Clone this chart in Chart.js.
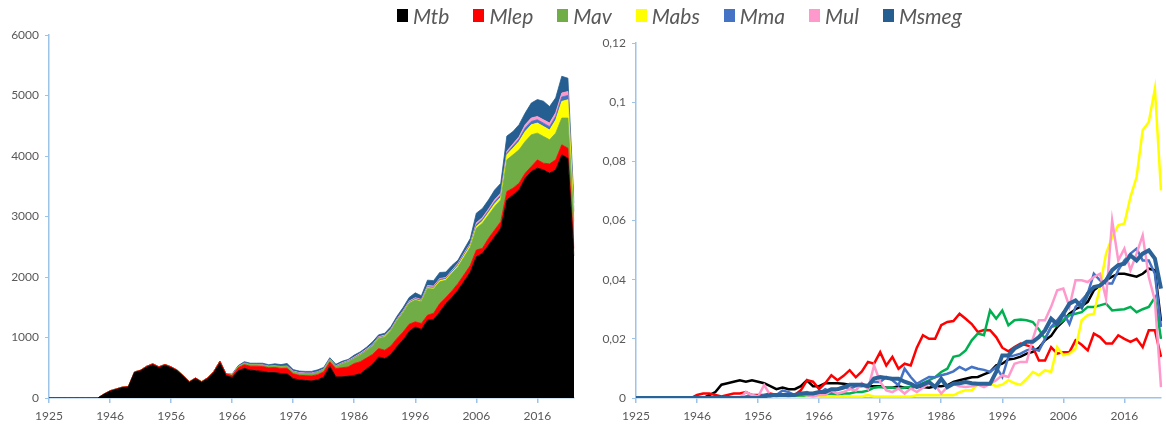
<!DOCTYPE html>
<html lang="en">
<head>
<meta charset="UTF-8">
<title>Mycobacteria</title>
<script src="https://cdn.jsdelivr.net/npm/chart.js"></script>
<style>
  body { margin: 0; background: #fff; width: 1166px; height: 426px; overflow: hidden; position: relative; }
  #legend { position: absolute; left: 397px; top: 3px; display: flex; align-items: center; font-family: Lato, sans-serif; font-style: italic; font-size: 21px; color: #595959; }
  #legend .item { display: flex; align-items: center; margin-right: 24px; }
  #legend .box { width: 11px; height: 13px; margin-right: 5px; }
  .wrap { position: absolute; top: 0; height: 426px; }
</style>
</head>
<body>
<div class="wrap" style="left:0;width:590px"><canvas id="left"></canvas></div>
<div class="wrap" style="left:590px;width:576px"><canvas id="right"></canvas></div>
<div id="legend"></div>

<script>
// years on the category axis (1925, then 1937..2022)
const years = ['1925','1937','1938','1939','1940','1941','1942','1943','1944','1945',
  '1946','1947','1948','1949','1950','1951','1952','1953','1954','1955',
  '1956','1957','1958','1959','1960','1961','1962','1963','1964','1965',
  '1966','1967','1968','1969','1970','1971','1972','1973','1974','1975',
  '1976','1977','1978','1979','1980','1981','1982','1983','1984','1985',
  '1986','1987','1988','1989','1990','1991','1992','1993','1994','1995',
  '1996','1997','1998','1999','2000','2001','2002','2003','2004','2005',
  '2006','2007','2008','2009','2010','2011','2012','2013','2014','2015',
  '2016','2017','2018','2019','2020','2021','2022'];

const names = ['Mtb','Mlep','Mav','Mabs','Mma','Mul','Msmeg'];

// left: counts (stacked area)
const lMtb = [0,0,0,0,0,0,0,0,0,60,
  110,140,170,180,420,450,510,550,500,540,
  500,450,360,260,320,260,320,420,580,370,
  340,450,490,460,450,440,420,420,404,400,
  320,300,290,282,300,348,525,348,350,359,
  376,400,480,560,679,652,720,850,960,1100,
  1176,1133,1287,1300,1420,1560,1660,1784,1930,2080,
  2335,2391,2529,2667,2805,3274,3357,3440,3633,3743,
  3799,3771,3716,3771,4019,3964,2350];
const lMlep = [0,0,0,0,0,0,0,0,0,5,
  10,10,10,10,10,10,15,15,15,15,
  15,10,10,10,10,10,15,20,30,30,
  30,50,60,65,75,80,80,85,83,90,
  80,75,80,83,85,83,71,139,150,154,
  194,200,180,160,139,138,140,135,130,120,
  83,99,82,100,140,100,110,110,110,110,
  111,83,111,110,110,138,111,110,83,83,
  137,110,154,165,166,166,120];
const lMav = [0,0,0,0,0,0,0,0,0,0,
  0,0,0,0,0,0,0,0,0,0,
  0,0,0,0,0,0,0,0,0,0,
  10,15,20,20,20,20,20,20,25,30,
  25,25,25,30,30,30,30,26,60,83,
  82,110,120,140,166,220,250,290,320,345,
  359,358,442,400,360,286,290,275,290,300,
  359,414,385,386,359,524,551,552,524,524,
  442,442,398,442,442,497,450];
const lMabs = [0,0,0,0,0,0,0,0,0,0,
  0,0,0,0,0,0,0,0,0,0,
  0,0,0,0,0,0,0,0,0,0,
  0,0,0,0,0,0,0,0,0,0,
  0,0,0,0,0,0,0,0,2,2,
  2,3,3,4,5,5,5,5,8,10,
  10,10,12,15,20,15,20,20,25,25,
  30,35,40,45,44,83,111,138,165,166,
  166,165,162,217,275,303,120];
const lMma = [0,0,0,0,0,0,0,0,0,0,
  0,0,0,0,0,0,0,0,0,0,
  0,0,0,0,0,0,0,0,0,0,
  3,3,5,5,5,5,5,5,5,5,
  10,10,10,10,10,10,10,10,10,10,
  10,10,10,10,10,10,10,12,12,12,
  15,15,15,15,20,15,15,20,20,20,
  30,30,30,35,35,30,35,40,56,56,
  55,55,55,60,73,70,40];
const lMul = [0,0,0,0,0,0,0,0,0,0,
  0,0,0,0,0,0,0,0,0,0,
  0,0,0,0,0,0,0,0,0,0,
  3,3,5,5,5,5,5,5,5,5,
  10,10,10,10,10,10,10,10,10,10,
  15,15,15,15,15,15,15,15,15,15,
  15,15,20,20,15,15,15,20,20,20,
  30,30,30,35,35,30,35,40,56,56,
  55,55,60,60,66,66,20];
const lMsmeg = [0,0,0,0,0,0,0,0,0,0,
  0,0,0,0,0,0,0,0,0,0,
  0,0,0,0,0,0,0,0,0,0,
  10,15,20,20,20,25,20,30,30,40,
  25,25,25,25,30,25,20,25,25,20,
  30,25,30,40,30,30,40,45,50,60,
  80,60,90,90,100,90,80,50,65,80,
  160,150,150,160,160,250,204,198,193,247,
  279,307,272,246,277,220,120];

// right: proportions (lines)
const rMtb = [0,0,0,0,0,0,0,0,0,0,
  0,0,0.001,0.002,0.0045,0.005,0.0055,0.006,0.0055,0.006,
  0.0055,0.005,0.004,0.003,0.0035,0.003,0.003,0.004,0.006,0.004,
  0.004,0.005,0.005,0.005,0.0048,0.0045,0.0045,0.0045,0.004,0.004,
  0.004,0.0035,0.0035,0.004,0.0035,0.0035,0.004,0.0037,0.0035,0.004,
  0.004,0.0043,0.0054,0.006,0.0065,0.007,0.0071,0.008,0.0088,0.011,
  0.0116,0.013,0.0133,0.014,0.015,0.0156,0.017,0.0195,0.021,0.024,
  0.026,0.0285,0.030,0.031,0.0325,0.0364,0.038,0.0398,0.041,0.042,
  0.042,0.0415,0.041,0.042,0.0437,0.0432,0.026];
const rMlep = [0,0,0,0,0,0,0,0,0,0,
  0.001,0.0015,0.0015,0.001,0.0005,0.001,0.0015,0.0015,0.002,0.001,
  0.001,0.001,0.0015,0.001,0.001,0.001,0.001,0.0026,0.006,0.0055,
  0.003,0.005,0.0077,0.006,0.0075,0.0094,0.007,0.009,0.0122,0.0116,
  0.0155,0.011,0.0139,0.0099,0.0116,0.011,0.017,0.0212,0.02,0.02,
  0.0246,0.0257,0.026,0.0285,0.0268,0.025,0.0223,0.023,0.0229,0.0206,
  0.017,0.0158,0.0172,0.0184,0.0178,0.0172,0.0127,0.0127,0.0172,0.015,
  0.0155,0.0155,0.0195,0.018,0.0161,0.0218,0.0206,0.0184,0.0184,0.0212,
  0.02,0.019,0.02,0.0172,0.0229,0.0229,0.0139];
const rMav = [0,0,0,0,0,0,0,0,0,0,
  0,0,0,0,0,0,0,0,0,0,
  0,0,0,0,0,0,0.0005,0.0005,0.001,0.0005,
  0.001,0.001,0.0015,0.001,0.0015,0.0015,0.002,0.002,0.0025,0.0035,
  0.0037,0.0035,0.0035,0.0032,0.0035,0.0037,0.004,0.005,0.006,0.007,
  0.0088,0.0099,0.0139,0.0144,0.0161,0.0195,0.0218,0.0212,0.0296,0.0268,
  0.0296,0.0246,0.0263,0.0265,0.0263,0.0257,0.0232,0.02,0.024,0.0246,
  0.0263,0.028,0.0285,0.029,0.0308,0.0308,0.0313,0.0319,0.0296,0.0298,
  0.03,0.0308,0.029,0.03,0.0308,0.034,0.02];
const rMabs = [0,0,0,0,0,0,0,0,0,0,
  0,0,0,0,0,0,0,0,0,0,
  0,0,0,0,0,0,0,0,0,0,
  0.0005,0.0005,0.0005,0.0005,0.0005,0.0005,0.0005,0.0005,0.001,0.0005,
  0.0005,0.0005,0.0005,0.0005,0.0005,0.0005,0.0009,0.0009,0.0009,0.0009,
  0.0009,0.0009,0.0009,0.002,0.0026,0.0026,0.0048,0.005,0.0048,0.004,
  0.0045,0.006,0.005,0.0045,0.0065,0.0088,0.0077,0.0094,0.0088,0.0172,
  0.0144,0.015,0.0167,0.0263,0.028,0.0285,0.0375,0.0488,0.0544,0.0584,
  0.059,0.068,0.0747,0.0905,0.0933,0.1046,0.0702];
const rMma = [0,0,0,0,0,0,0,0,0,0,
  0,0,0,0,0,0,0,0,0.0005,0.001,
  0.0005,0.001,0.0005,0.001,0.0025,0.002,0.001,0.0015,0.002,0.001,
  0.0015,0.003,0.002,0.003,0.004,0.003,0.004,0.004,0.0045,0.0055,
  0.0054,0.0071,0.006,0.0043,0.0099,0.0071,0.0048,0.006,0.0071,0.007,
  0.0077,0.0082,0.009,0.0105,0.0094,0.0105,0.0099,0.0095,0.0088,0.0105,
  0.0071,0.0139,0.0144,0.015,0.0161,0.0167,0.016,0.02,0.024,0.0263,
  0.029,0.025,0.0308,0.033,0.0353,0.042,0.0398,0.0387,0.0387,0.0432,
  0.0465,0.0488,0.0505,0.0465,0.0465,0.042,0.024];
const rMul = [0,0,0,0,0,0,0,0,0,0,
  0,0,0,0,0,0,0,0,0.002,0.001,
  0.0005,0.0044,0.001,0.0005,0.001,0.0005,0.001,0.0015,0.001,0.0005,
  0.001,0.001,0.0025,0.0015,0.002,0.003,0.0025,0.005,0.003,0.011,
  0.0054,0.0026,0.002,0.0032,0.0015,0.0032,0.002,0.0035,0.0048,0.0043,
  0.0015,0.0037,0.0048,0.004,0.0037,0.004,0.0045,0.0037,0.0048,0.006,
  0.0077,0.0071,0.0116,0.0122,0.0122,0.02,0.0263,0.0263,0.0308,0.0364,
  0.037,0.0308,0.0398,0.0398,0.0392,0.0409,0.042,0.0336,0.06,0.0465,
  0.0505,0.0432,0.0488,0.055,0.0409,0.033,0.0037];
const rMsmeg = [0,0,0,0,0,0,0,0,0,0,
  0,0,0,0,0,0,0,0,0,0,
  0,0.0005,0.001,0.001,0.001,0.001,0.001,0.0015,0.0015,0.0015,
  0.002,0.002,0.003,0.003,0.0035,0.0045,0.0045,0.0045,0.004,0.0066,
  0.0071,0.0068,0.0065,0.0065,0.0055,0.0048,0.0037,0.0045,0.0054,0.0037,
  0.0065,0.0037,0.0048,0.005,0.0054,0.005,0.0048,0.0048,0.0048,0.0088,
  0.0144,0.0144,0.0167,0.0178,0.019,0.019,0.0206,0.0229,0.0268,0.025,
  0.0285,0.0319,0.033,0.0308,0.0353,0.0375,0.038,0.0398,0.0432,0.0449,
  0.0454,0.0482,0.0465,0.0488,0.0499,0.0471,0.037];

const areaColors = ['#000000','#ff0000','#70ad47','#ffff00','#4472c4','#ff99cc','#255e91'];
const lineColors = ['#000000','#ff0000','#00b050','#ffff00','#4472c4','#ff99cc','#2b6399'];
const lineWidths = [2.5,2.5,2.5,2.5,2.5,2.5,4];

// legend
const leg = document.getElementById('legend');
names.forEach((n, i) => {
  const it = document.createElement('div');
  it.className = 'item';
  it.innerHTML = '<span class="box" style="background:' + areaColors[i] + '"></span>' + n;
  leg.appendChild(it);
});

const axisBlue = '#9dc3e6';
const tickFont = { family: 'Lato', size: 12 };

function xAxis() {
  return {
    border: { color: axisBlue, width: 1.5 },
    grid: { drawOnChartArea: false, color: axisBlue, tickLength: 5, lineWidth: 1.5 },
    ticks: {
      autoSkip: false, maxRotation: 0, color: '#595959', font: tickFont, padding: 6,
      callback: function (v, i) { return i % 10 === 0 ? this.getLabelForValue(v) : null; }
    },
    afterFit: s => { s.height = 28; }
  };
}

const leftSets = [lMtb, lMlep, lMav, lMabs, lMma, lMul, lMsmeg].map((d, i) => ({
  label: names[i], data: d,
  backgroundColor: areaColors[i], borderColor: areaColors[i], borderWidth: 0.8,
  fill: i === 0 ? 'origin' : '-1', pointRadius: 0, tension: 0
}));

new Chart(document.getElementById('left'), {
  type: 'line',
  data: { labels: years, datasets: leftSets },
  options: {
    responsive: true, maintainAspectRatio: false, animation: false,
    layout: { padding: { top: 35, right: 16, left: 0, bottom: 0 } },
    plugins: { legend: { display: false }, tooltip: { enabled: false } },
    scales: {
      x: xAxis(),
      y: {
        stacked: true, min: 0, max: 6000,
        border: { color: axisBlue, width: 1.5 },
        grid: { drawOnChartArea: false, color: axisBlue, tickLength: 4 },
        ticks: { stepSize: 1000, color: '#595959', font: tickFont, padding: 6, callback: v => String(v) },
        afterFit: s => { s.width = 49; }
      }
    }
  }
});

const rightSets = [rMtb, rMlep, rMav, rMabs, rMma, rMul, rMsmeg].map((d, i) => ({
  label: names[i], data: d,
  borderColor: lineColors[i], backgroundColor: lineColors[i], borderWidth: lineWidths[i],
  fill: false, pointRadius: 0, tension: 0, order: 6 - i
}));

new Chart(document.getElementById('right'), {
  type: 'line',
  data: { labels: years, datasets: rightSets },
  options: {
    responsive: true, maintainAspectRatio: false, animation: false,
    layout: { padding: { top: 43, right: 5, left: 0, bottom: 0 } },
    plugins: { legend: { display: false }, tooltip: { enabled: false } },
    scales: {
      x: xAxis(),
      y: {
        min: 0, max: 0.12,
        border: { color: axisBlue, width: 1.5 },
        grid: { drawOnChartArea: false, color: axisBlue, tickLength: 4 },
        ticks: {
          stepSize: 0.02, color: '#595959', font: tickFont, padding: 6,
          callback: v => String(Math.round(v * 100) / 100).replace('.', ',')
        },
        afterFit: s => { s.width = 46; }
      }
    }
  }
});
</script>
</body>
</html>
